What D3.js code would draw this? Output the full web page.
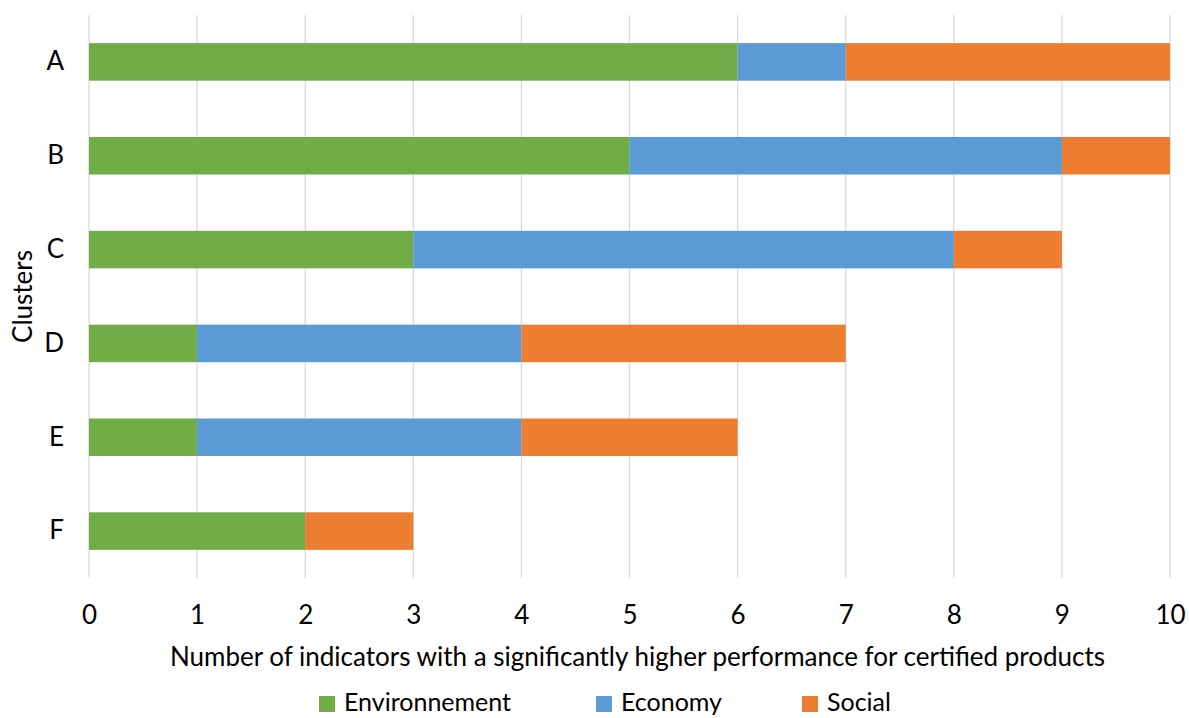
<!DOCTYPE html>
<html>
<head>
<meta charset="utf-8">
<script src="https://cdn.jsdelivr.net/npm/d3@7"></script>
<style>
  html, body { margin: 0; padding: 0; background: #fff; }
  svg text { font-family: Lato, "Open Sans", sans-serif; fill: #000; }
</style>
</head>
<body>
<svg id="chart" width="1189" height="718"></svg>
<script>
// Clusters and the number of indicators per dimension
const clusters = ["A", "B", "C", "D", "E", "F"];
const environnement = [6, 5, 3, 1, 1, 2];
const economy = [1, 4, 5, 3, 3, 0];
const social = [3, 1, 1, 3, 2, 1];
const seriesNames = ["Environnement", "Economy", "Social"];
const seriesColors = ["#70AD47", "#5B9BD5", "#ED7D31"];
const xTicks = [0, 1, 2, 3, 4, 5, 6, 7, 8, 9, 10];

const rows = clusters.map((c, i) => ({
  cluster: c,
  Environnement: environnement[i],
  Economy: economy[i],
  Social: social[i]
}));

const svg = d3.select("#chart");
const margin = { left: 89, right: 19, top: 15, bottom: 140 };
const W = 1189, H = 718;
const fontSize = 26;
const fontFamily = "Lato, 'Open Sans', sans-serif";

const x = d3.scaleLinear().domain([0, 10]).range([margin.left, W - margin.right]);
const y = d3.scaleBand().domain(clusters).range([margin.top, H - margin.bottom])
  .paddingInner(0.6).paddingOuter(0.3);

// vertical gridlines
svg.append("g").selectAll("line").data(xTicks).join("line")
  .attr("x1", d => x(d)).attr("x2", d => x(d))
  .attr("y1", margin.top).attr("y2", H - margin.bottom)
  .attr("stroke", "#d9d9d9").attr("stroke-width", 1.3);

// stacked bars
const stack = d3.stack().keys(seriesNames)(rows);
const color = d3.scaleOrdinal().domain(seriesNames).range(seriesColors);

svg.append("g").selectAll("g").data(stack).join("g")
  .attr("fill", d => color(d.key))
  .selectAll("rect").data(d => d).join("rect")
  .attr("x", d => x(d[0]))
  .attr("y", d => y(d.data.cluster))
  .attr("width", d => x(d[1]) - x(d[0]))
  .attr("height", y.bandwidth());

// x axis tick labels
const xAxis = d3.axisBottom(x).tickValues(xTicks).tickSize(0).tickPadding(0);
const gx = svg.append("g").attr("transform", `translate(0,${H - margin.bottom})`).call(xAxis);
gx.select(".domain").remove();
gx.selectAll("text").attr("font-size", fontSize).attr("dy", null)
  .attr("y", 46).attr("font-family", fontFamily).attr("fill", "#000");

// y axis category labels
const yAxis = d3.axisLeft(y).tickSize(0).tickPadding(0);
const gy = svg.append("g").attr("transform", `translate(${margin.left},0)`).call(yAxis);
gy.select(".domain").remove();
gy.selectAll("text").attr("font-size", fontSize).attr("x", -25)
  .attr("font-family", fontFamily).attr("fill", "#000");

// axis titles
svg.append("text")
  .attr("x", (x(0) + x(10)) / 2 + 8).attr("y", 666)
  .attr("text-anchor", "middle").attr("font-size", fontSize)
  .text("Number of indicators with a significantly higher performance for certified products");

svg.append("text")
  .attr("transform", `translate(32,${(margin.top + H - margin.bottom) / 2}) rotate(-90)`)
  .attr("text-anchor", "middle").attr("font-size", fontSize)
  .text("Clusters");

// legend
const legendX = [319, 596, 802];
const legend = svg.append("g").selectAll("g").data(seriesNames).join("g")
  .attr("transform", (d, i) => `translate(${legendX[i]},696)`);
legend.append("rect").attr("width", 16).attr("height", 16).attr("fill", d => color(d));
legend.append("text").attr("x", 25).attr("y", 15).attr("font-size", 25).text(d => d);
</script>
</body>
</html>
